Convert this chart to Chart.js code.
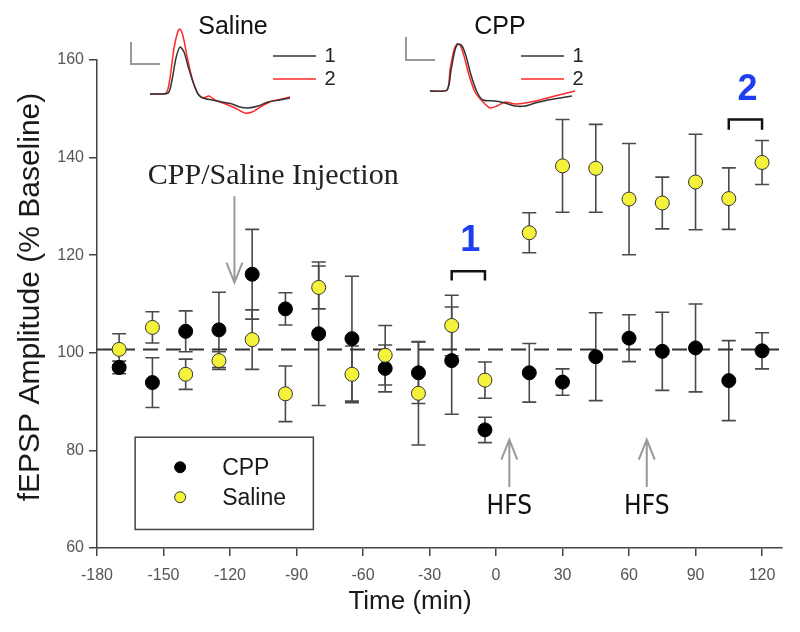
<!DOCTYPE html>
<html lang="en">
<head>
<meta charset="UTF-8">
<title>fEPSP amplitude - CPP vs Saline</title>
<script src="https://cdn.jsdelivr.net/npm/chart.js"></script>
<style>
  * { margin: 0; padding: 0; box-sizing: border-box; }
  body { background: #fff; width: 800px; height: 632px; overflow: hidden; }
  #chart { display: block; }
</style>
</head>
<body>
<canvas id="chart" width="800" height="632"></canvas>
<script>
// time of each sample (min), relative to HFS
const times = [-170, -155, -140, -125, -110, -95, -80, -65, -50, -35, -20, -5, 15, 30, 45, 60, 75, 90, 105, 120];
// fEPSP amplitude (% baseline) and SEM
const cpp     = [97.0, 93.9, 104.4, 104.7, 116.1, 109.0, 103.9, 102.9, 96.8, 95.9, 98.4, 84.2, 95.9, 94.0, 99.2, 103.0, 100.3, 101.0, 94.3, 100.4];
const cppSem  = [1.3, 5.1, 4.2, 7.7, 9.2, 3.3, 14.7, 12.8, 4.8, 6.3, 11.0, 2.6, 6.0, 2.7, 9.0, 4.8, 8.0, 9.0, 8.2, 3.7];
const saline  = [100.7, 105.2, 95.6, 98.4, 102.7, 91.6, 113.4, 95.6, 99.5, 91.7, 105.6, 94.4, 124.6, 138.3, 137.8, 131.5, 130.7, 135.0, 131.6, 139.0];
const salSem  = [3.2, 3.2, 3.1, 1.8, 6.1, 5.7, 4.4, 5.8, 6.1, 10.6, 6.2, 3.7, 4.1, 9.5, 9.0, 11.4, 5.3, 9.8, 6.3, 4.5];
const baseline = 100.7;
const xTicks = [-180, -150, -120, -90, -60, -30, 0, 30, 60, 90, 120];
const yTicks = [60, 80, 100, 120, 140, 160];

// events
const injectionTime = -118;
const hfsTimes = [6, 68];
const windows = [[-20, -5], [105, 120]]; // averaging windows "1" and "2"

// example traces (time in ms, amplitude in arbitrary units)
const salT  = [0, 1.8, 2.2, 2.6, 3.0, 3.4, 3.8, 4.3, 4.8, 5.3, 6.2, 7.2, 8.2, 9.0, 9.8, 10.8, 11.8, 13.0, 14.0];
const sal1  = [-0.2, -0.1, 1.2, 3.4, 4.5, 4.0, 2.6, 1.0, -0.2, -0.6, -0.8, -1.0, -1.2, -1.5, -1.6, -1.4, -1.0, -0.8, -0.6];
const sal2T = [0, 1.6, 2.0, 2.4, 2.8, 3.0, 3.3, 3.7, 4.2, 4.8, 5.3, 5.9, 6.5, 7.3, 8.5, 9.5, 10.2, 11.2, 12.2, 13.2, 14.0];
const sal2  = [-0.2, -0.1, 1.4, 4.4, 6.1, 6.3, 5.6, 3.6, 1.4, -0.2, -0.6, -0.4, -0.8, -1.1, -1.6, -2.1, -2.0, -1.4, -0.9, -0.7, -0.5];
const cppT1 = [0, 1.7, 2.1, 2.5, 2.8, 3.2, 3.6, 4.1, 4.7, 5.3, 6.5, 7.5, 8.5, 9.5, 10.5, 11.8, 13.0, 14.2];
const cpp1  = [0.1, 0.2, 2.2, 4.2, 4.8, 4.6, 3.6, 1.7, 0, -0.8, -0.9, -1.1, -1.4, -1.4, -1.1, -0.8, -0.6, -0.4];
const cppT2 = [0, 1.7, 2.0, 2.4, 2.7, 3.0, 3.4, 3.9, 4.5, 5.2, 6.0, 6.7, 7.5, 8.5, 9.5, 11.0, 12.5, 14.5];
const cpp2  = [0.1, 0.2, 2.2, 4.2, 4.8, 4.7, 3.6, 1.7, 0, -0.9, -1.6, -1.4, -1.0, -1.2, -1.1, -0.8, -0.4, 0.1];
// calibration bars
const salBarT = [-1.9, -1.9, 1.0];
const salBarV = [5.0, 2.8, 2.8];
const cppBarT = [-2.4, -2.4, 0.5];
const cppBarV = [5.5, 3.2, 3.2];

const pts = (xs, ys) => xs.map((x, i) => ({ x: x, y: ys[i] }));

const errorBars = {
  id: 'errorBars',
  beforeDatasetsDraw(chart) {
    const ctx = chart.ctx, sx = chart.scales.x, sy = chart.scales.y;
    ctx.save();
    ctx.strokeStyle = '#4a4a4a';
    ctx.lineWidth = 1.6;
    [[cpp, cppSem], [saline, salSem]].forEach(([vals, sem]) => {
      times.forEach((t, i) => {
        const x = sx.getPixelForValue(t);
        const y1 = sy.getPixelForValue(vals[i] + sem[i]);
        const y2 = sy.getPixelForValue(vals[i] - sem[i]);
        ctx.beginPath();
        ctx.moveTo(x, y1); ctx.lineTo(x, y2);
        ctx.moveTo(x - 7, y1); ctx.lineTo(x + 7, y1);
        ctx.moveTo(x - 7, y2); ctx.lineTo(x + 7, y2);
        ctx.stroke();
      });
    });
    ctx.restore();
  }
};

function arrow(ctx, x, yFrom, yTip) {
  const dir = yTip > yFrom ? 1 : -1;
  ctx.beginPath();
  ctx.moveTo(x, yFrom); ctx.lineTo(x, yTip);
  ctx.moveTo(x - 8, yTip - dir * 20); ctx.lineTo(x, yTip); ctx.lineTo(x + 8, yTip - dir * 20);
  ctx.stroke();
}

const annotations = {
  id: 'annotations',
  afterDraw(chart) {
    const ctx = chart.ctx, sx = chart.scales.x, sy = chart.scales.y;
    const X = v => sx.getPixelForValue(v), Y = v => sy.getPixelForValue(v);
    ctx.save();

    // axis titles
    ctx.fillStyle = '#1a1a1a';
    ctx.textAlign = 'center';
    ctx.textBaseline = 'middle';
    ctx.font = '26px "Liberation Sans", Arial, sans-serif';
    ctx.fillText('Time (min)', 410, 602);
    ctx.save();
    ctx.translate(31, 297);
    ctx.rotate(-Math.PI / 2);
    ctx.font = '30px "Liberation Sans", Arial, sans-serif';
    ctx.fillText('fEPSP Amplitude (% Baseline)', 0, 0);
    ctx.restore();

    // arrows
    ctx.strokeStyle = '#999';
    ctx.lineWidth = 2;
    arrow(ctx, X(injectionTime), Y(132.1), Y(114.4));
    hfsTimes.forEach(t => arrow(ctx, X(t), Y(72.5), Y(82.2)));

    ctx.fillStyle = '#222';
    ctx.font = '30px "Liberation Serif", "Times New Roman", serif';
    ctx.fillText('CPP/Saline Injection', X(-100.5), Y(136.2));
    ctx.fillStyle = '#111';
    ctx.font = '26px "DejaVu Sans Condensed", sans-serif';
    hfsTimes.forEach(t => ctx.fillText('HFS', X(t), Y(68.4)));

    // averaging windows
    ctx.strokeStyle = '#111';
    ctx.lineWidth = 2.5;
    const brTop = [116.7, 147.8], brLeg = [114.8, 145.7], lblY = [122.9, 153.8];
    windows.forEach((w, i) => {
      ctx.beginPath();
      ctx.moveTo(X(w[0]), Y(brLeg[i]));
      ctx.lineTo(X(w[0]), Y(brTop[i]));
      ctx.lineTo(X(w[1]), Y(brTop[i]));
      ctx.lineTo(X(w[1]), Y(brLeg[i]));
      ctx.stroke();
      ctx.fillStyle = '#1f3ef0';
      ctx.font = 'bold 36px "Liberation Sans", Arial, sans-serif';
      ctx.fillText(String(i + 1), (X(w[0]) + X(w[1])) / 2 + 2, Y(lblY[i]));
    });

    // legend box
    const bx1 = X(-162.8), bx2 = X(-82.4), by1 = Y(82.7), by2 = Y(63.8);
    ctx.fillStyle = '#fff';
    ctx.fillRect(bx1, by1, bx2 - bx1, by2 - by1);
    ctx.strokeStyle = '#444';
    ctx.lineWidth = 1.5;
    ctx.strokeRect(bx1, by1, bx2 - bx1, by2 - by1);
    const items = [['CPP', '#000', '#000'], ['Saline', '#f5f23c', '#333']];
    ctx.textAlign = 'left';
    ctx.font = '23px "Liberation Sans", Arial, sans-serif';
    items.forEach(([label, fill, border], i) => {
      const cy = by1 + 30 + i * 30;
      ctx.beginPath();
      ctx.arc(bx1 + 45, cy, 5.5, 0, Math.PI * 2);
      ctx.fillStyle = fill; ctx.fill();
      ctx.strokeStyle = border; ctx.lineWidth = 1; ctx.stroke();
      ctx.fillStyle = '#1a1a1a';
      ctx.fillText(label, bx1 + 87, cy + 1);
    });

    // inset titles and keys
    const ty = chart.scales.ty;
    [['sx', 'Saline', 8.3, 12.3, 16.6, 18.0], ['cx', 'CPP', 7.0, 9.1, 13.4, 14.8]].forEach(([id, title, tx, k1, k2, kt]) => {
      const s = chart.scales[id];
      ctx.textAlign = 'center';
      ctx.fillStyle = '#111';
      ctx.font = '25px "Liberation Sans", Arial, sans-serif';
      ctx.fillText(title, s.getPixelForValue(tx), ty.getPixelForValue(6.5));
      [['#333', 3.6, '1'], ['#ff2a2a', 1.3, '2']].forEach(([col, v, lab]) => {
        ctx.strokeStyle = col; ctx.lineWidth = 1.5;
        ctx.beginPath();
        ctx.moveTo(s.getPixelForValue(k1), ty.getPixelForValue(v));
        ctx.lineTo(s.getPixelForValue(k2), ty.getPixelForValue(v));
        ctx.stroke();
        ctx.fillStyle = '#222';
        ctx.font = '20px "Liberation Sans", Arial, sans-serif';
        ctx.fillText(lab, s.getPixelForValue(kt), ty.getPixelForValue(v));
      });
    });
    ctx.restore();
  }
};

const traceStyle = (color, width) => ({
  showLine: true, pointRadius: 0, borderColor: color, borderWidth: width,
  tension: 0.25, clip: false, yAxisID: 'ty'
});

new Chart(document.getElementById('chart'), {
  type: 'scatter',
  data: {
    datasets: [
      { label: 'Saline', data: pts(times, saline), backgroundColor: '#f5f23c', borderColor: '#333', borderWidth: 1, pointRadius: 7, pointHoverRadius: 7 },
      { label: 'CPP', data: pts(times, cpp), backgroundColor: '#000', borderColor: '#000', borderWidth: 1, pointRadius: 7, pointHoverRadius: 7 },
      Object.assign({ data: pts(salT, sal1), xAxisID: 'sx' }, traceStyle('#333', 1.5)),
      Object.assign({ data: pts(sal2T, sal2), xAxisID: 'sx' }, traceStyle('#ff2a2a', 1.5)),
      Object.assign({ data: pts(cppT1, cpp1), xAxisID: 'cx' }, traceStyle('#333', 1.5)),
      Object.assign({ data: pts(cppT2, cpp2), xAxisID: 'cx' }, traceStyle('#ff2a2a', 1.5)),
      Object.assign({ data: pts(salBarT, salBarV), xAxisID: 'sx' }, traceStyle('#999', 2), { tension: 0 }),
      Object.assign({ data: pts(cppBarT, cppBarV), xAxisID: 'cx' }, traceStyle('#999', 2), { tension: 0 }),
      { data: [{ x: xTicks[0], y: baseline }, { x: 129, y: baseline }], showLine: true, pointRadius: 0,
        borderColor: '#333', borderWidth: 2, borderDash: [15, 8], clip: false }
    ]
  },
  options: {
    responsive: false,
    animation: false,
    layout: { padding: { top: 60, right: 18, left: 0, bottom: 0 } },
    plugins: { legend: { display: false }, tooltip: { enabled: false } },
    scales: {
      x: {
        type: 'linear', min: -180, max: 129,
        afterBuildTicks: s => { s.ticks = xTicks.map(v => ({ value: v })); },
        afterFit: s => { s.height = 84; },
        grid: { drawOnChartArea: false, tickLength: 8, color: '#444', lineWidth: 1.5 },
        border: { color: '#444', width: 1.5 },
        ticks: { color: '#555', padding: 10, font: { size: 16, family: '"Liberation Sans", Arial, sans-serif' } }
      },
      y: {
        type: 'linear', min: 60, max: 160,
        afterBuildTicks: s => { s.ticks = yTicks.map(v => ({ value: v })); },
        afterFit: s => { s.width = 97; },
        grid: { drawOnChartArea: false, tickLength: 8, color: '#444', lineWidth: 1.5 },
        border: { color: '#444', width: 1.5 },
        ticks: { color: '#555', padding: 5, font: { size: 16, family: '"Liberation Sans", Arial, sans-serif' } }
      },
      sx: { type: 'linear', display: false, min: -5.3, max: 63.2 },
      cx: { type: 'linear', display: false, min: -33.3, max: 35.2 },
      ty: { type: 'linear', display: false, min: -45.6, max: 3.2 }
    }
  },
  plugins: [errorBars, annotations]
});
</script>
</body>
</html>
